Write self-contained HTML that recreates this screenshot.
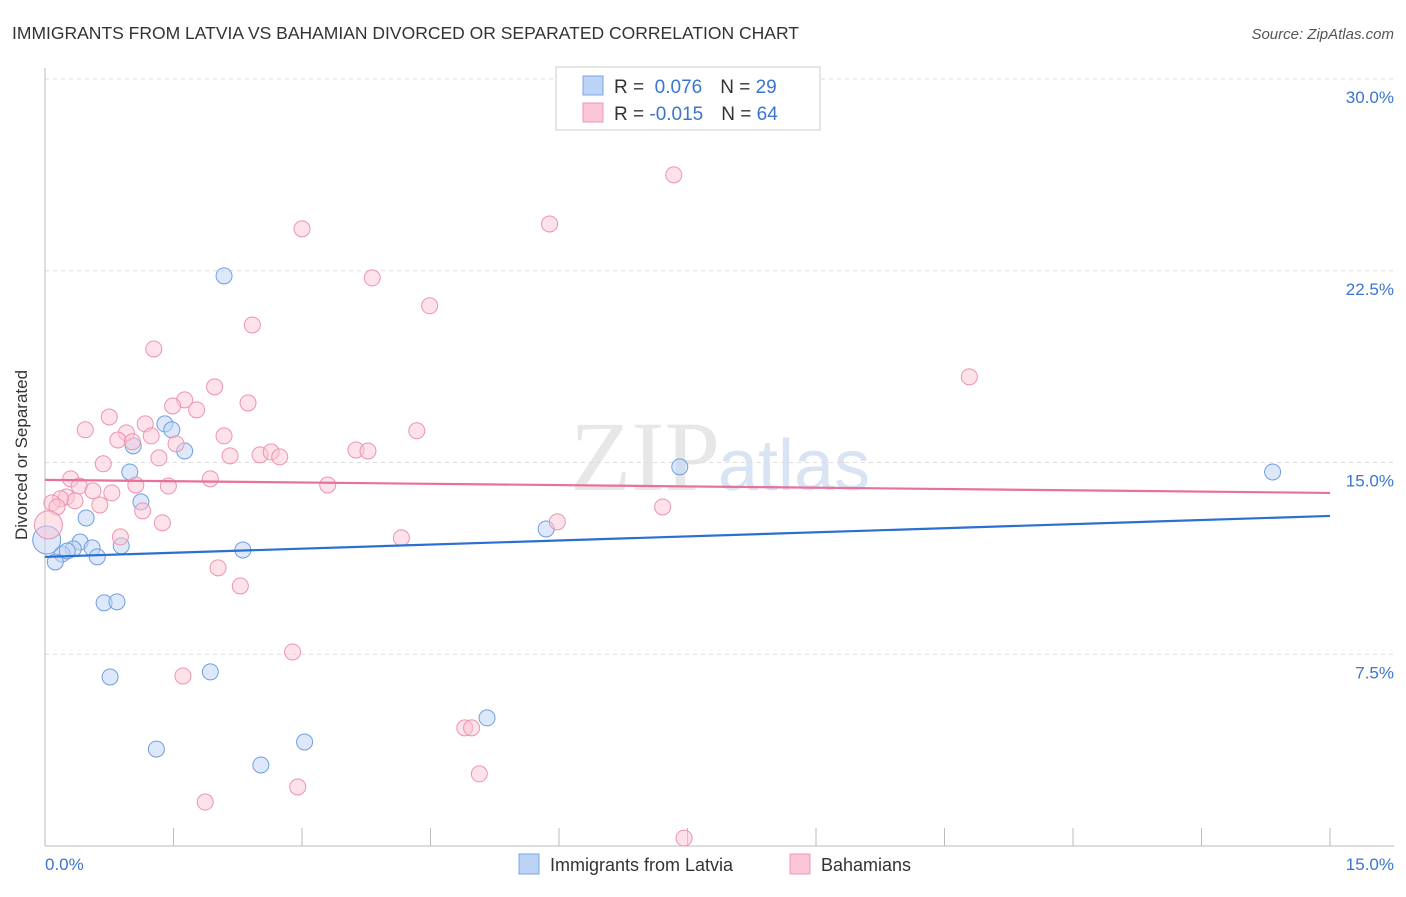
<!DOCTYPE html>
<html><head><meta charset="utf-8"><style>
body{margin:0;background:#fff;font-family:"Liberation Sans",sans-serif;}
</style></head><body>
<svg width="1406" height="892" xmlns="http://www.w3.org/2000/svg">
<text x="12" y="39" font-size="17.5" fill="#333">IMMIGRANTS FROM LATVIA VS BAHAMIAN DIVORCED OR SEPARATED CORRELATION CHART</text>
<text x="1394" y="39" font-size="15" fill="#555" font-style="italic" text-anchor="end">Source: ZipAtlas.com</text>
<text x="720" y="490" font-size="100" fill="#ddd" font-family="Liberation Serif" text-anchor="end" opacity="0.7">ZIP</text>
<text x="718" y="490" font-size="72" fill="#c8d8ee" opacity="0.7">atlas</text>
<g id="grid"></g><g id="axes"></g><g id="pts"></g><g id="lines"></g>
<text x="27" y="455" font-size="17" fill="#333" text-anchor="middle" transform="rotate(-90 27 455)">Divorced or Separated</text>
<text x="45" y="870" font-size="17" fill="#3a75d0">0.0%</text>
<text x="1394" y="870" font-size="17" fill="#3a75d0" text-anchor="end">15.0%</text>
<g>
<rect x="556" y="67" width="264" height="63" fill="#fff" stroke="#ccc"/>
<rect x="583" y="76" width="20" height="19" fill="#bcd3f5" stroke="#7aa6e6"/>
<rect x="583" y="103" width="20" height="19" fill="#fbc6d6" stroke="#ef98b4"/>
<text x="614" y="93" font-size="19" fill="#333">R = <tspan fill="#3a75d0">&#160;0.076</tspan><tspan dx="18">N = </tspan><tspan fill="#3a75d0">29</tspan></text>
<text x="614" y="120" font-size="19" fill="#333">R = <tspan fill="#3a75d0">-0.015</tspan><tspan dx="18">N = </tspan><tspan fill="#3a75d0">64</tspan></text>
</g>
<g>
<rect x="519" y="854" width="20" height="20" fill="#bcd3f5" stroke="#7aa6e6"/>
<text x="550" y="871" font-size="18" fill="#333">Immigrants from Latvia</text>
<rect x="790" y="854" width="20" height="20" fill="#fbc6d6" stroke="#ef98b4"/>
<text x="821" y="871" font-size="18" fill="#333">Bahamians</text>
</g>
</svg>
<script>
const yTicks=[7.5,15,22.5,30];
const yTickLabels=["7.5%","15.0%","22.5%","30.0%"];
const xTicks=[0,1.5,3,4.5,6,7.5,9,10.5,12,13.5,15];
const blueX=[2.09,1.40,1.48,1.63,1.03,0.99,1.12,0.48,0.41,0.33,0.20,0.26,0.12,0.55,0.61,0.89,2.31,0.69,0.84,0.76,1.93,1.30,2.52,3.03,5.16,5.85,7.41,14.33,0.02];
const blueY=[22.30,16.51,16.28,15.45,15.65,14.63,13.46,12.83,11.89,11.62,11.42,11.54,11.11,11.66,11.31,11.74,11.58,9.51,9.55,6.61,6.81,3.79,3.17,4.07,5.01,12.40,14.83,14.63,11.97];
const pinkX=[7.34,5.89,3.00,3.82,4.49,2.42,1.27,10.79,1.98,2.37,1.63,1.49,1.77,0.75,1.17,0.47,0.95,1.24,0.85,1.02,2.09,4.34,1.53,3.63,3.77,2.16,2.51,2.64,2.74,1.33,0.68,0.30,1.93,0.40,1.06,1.44,3.30,0.56,0.78,0.25,0.35,0.18,0.08,0.14,0.64,1.14,7.21,5.98,1.37,0.04,0.88,4.16,2.02,2.28,2.89,1.61,4.90,4.98,5.07,2.95,1.87,7.46];
const pinkY=[26.25,24.33,24.14,22.22,21.13,20.38,19.44,18.35,17.96,17.33,17.45,17.21,17.06,16.78,16.51,16.28,16.16,16.04,15.88,15.81,16.04,16.24,15.73,15.49,15.45,15.26,15.30,15.41,15.22,15.18,14.95,14.36,14.36,14.08,14.12,14.08,14.12,13.89,13.81,13.65,13.50,13.58,13.42,13.26,13.34,13.11,13.26,12.68,12.64,12.56,12.09,12.05,10.88,10.17,7.59,6.65,4.62,4.62,2.82,2.31,1.72,0.31];
const blueTrend=[11.31,12.91];
const pinkTrend=[14.32,13.81];
const NS="http://www.w3.org/2000/svg";
const sx=v=>45+v*(1285/15), sy=v=>846-v*(767/30);
function mk(tag,attrs,parent){const e=document.createElementNS(NS,tag);for(const k in attrs)e.setAttribute(k,attrs[k]);document.getElementById(parent).appendChild(e);return e;}
yTicks.forEach((t,i)=>{
 const g=mk('line',{x1:45,x2:1394,y1:sy(t),y2:sy(t),stroke:'#ddd','stroke-dasharray':'4,4'},'grid');
 
 
 const l=mk('text',{x:1394,y:sy(t)+24,'font-size':17,fill:'#3a75d0','text-anchor':'end'},'grid');
 l.textContent=yTickLabels[i];
 
 
});
const ax=mk('line',{x1:45,x2:45,y1:68,y2:846,stroke:'#bbb'},'axes');


const bx=mk('line',{x1:45,x2:1394,y1:846,y2:846,stroke:'#bbb'},'axes');


xTicks.forEach(t=>{
 const e=mk('line',{x1:sx(t),x2:sx(t),y1:828,y2:846,stroke:'#bbb'},'axes');
 
 
});
function pts(X,Y,fill,stroke,name){X.forEach((x,i)=>{
 const big=(x<0.05);
 const c=mk('circle',{cx:sx(x),cy:sy(Y[i]),r:big?14:8,fill:fill,'fill-opacity':0.5,stroke:stroke,'stroke-width':1},'pts');
 
 
});}
pts(blueX,blueY,'#bcd3f5','#6f9ee0','latvia-point');
pts(pinkX,pinkY,'#fbc6d6','#ec93b0','bahamians-point');
const bl=mk('line',{x1:sx(0),x2:sx(15),y1:sy(blueTrend[0]),y2:sy(blueTrend[1]),stroke:'#2b6fd0','stroke-width':2.2},'lines');


const pl=mk('line',{x1:sx(0),x2:sx(15),y1:sy(pinkTrend[0]),y2:sy(pinkTrend[1]),stroke:'#e8709a','stroke-width':2.2},'lines');


</script>
</body></html>
